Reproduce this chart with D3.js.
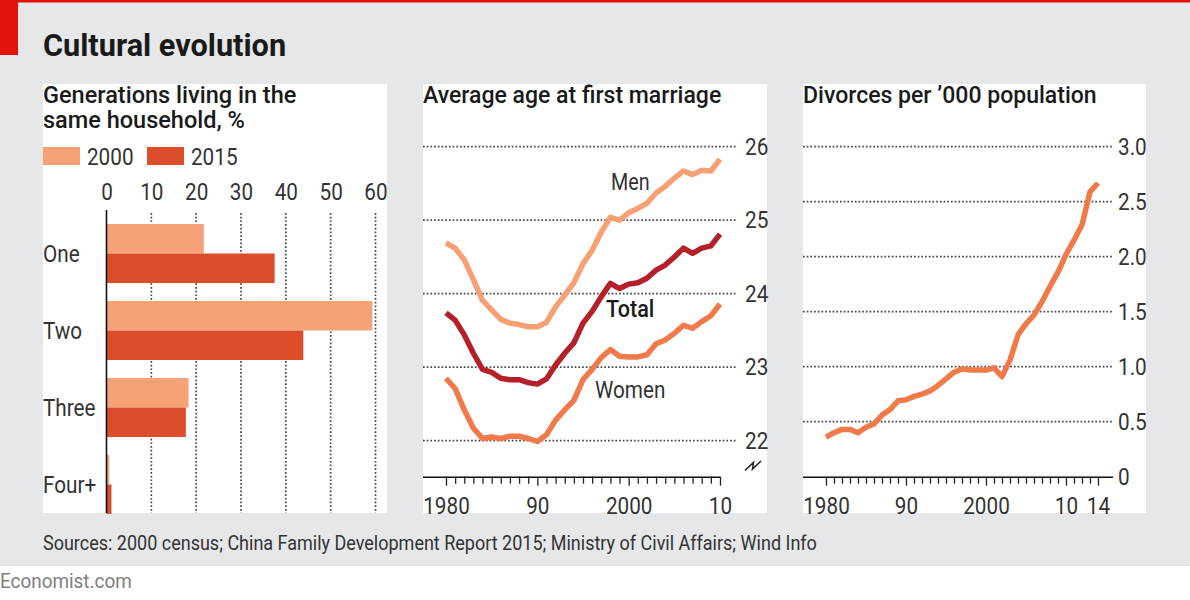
<!DOCTYPE html>
<html>
<head>
<meta charset="utf-8">
<script src="https://cdn.jsdelivr.net/npm/d3@7"></script>
<style>
  html, body { margin: 0; padding: 0; background: #ffffff; }
  svg { display: block; }
  text { font-family: "Roboto", "Noto Sans", sans-serif; }
</style>
</head>
<body>
<svg id="chart" width="1190" height="600"></svg>
<script>
// ---------- DATA ----------
const householdCats = ["One", "Two", "Three", "Four+"];
const householdSeries = ["2000", "2015"];
const household2000 = [21.7, 59.3, 18.3, 0.6];
const household2015 = [37.5, 43.9, 17.7, 1.1];
const householdTicks = [0, 10, 20, 30, 40, 50, 60];

const marriageYears = [1980, 1981, 1982, 1983, 1984, 1985, 1986, 1987, 1988, 1989,
  1990, 1991, 1992, 1993, 1994, 1995, 1996, 1997, 1998, 1999,
  2000, 2001, 2002, 2003, 2004, 2005, 2006, 2007, 2008, 2009, 2010];
const menAge = [24.69, 24.62, 24.46, 24.19, 23.91, 23.78, 23.65, 23.60, 23.58, 23.55,
  23.55, 23.61, 23.82, 23.98, 24.15, 24.41, 24.59, 24.84, 25.04, 25.00,
  25.10, 25.16, 25.23, 25.37, 25.46, 25.57, 25.67, 25.62, 25.68, 25.67, 25.83];
const totalAge = [23.74, 23.64, 23.44, 23.19, 22.97, 22.93, 22.85, 22.83, 22.83, 22.79,
  22.77, 22.84, 23.03, 23.19, 23.33, 23.60, 23.76, 23.96, 24.14, 24.07,
  24.13, 24.15, 24.21, 24.32, 24.39, 24.50, 24.62, 24.55, 24.62, 24.65, 24.81];
const womenAge = [22.85, 22.71, 22.42, 22.17, 22.03, 22.05, 22.03, 22.06, 22.06, 22.03,
  21.99, 22.08, 22.28, 22.42, 22.55, 22.83, 22.97, 23.13, 23.24, 23.15,
  23.14, 23.14, 23.17, 23.32, 23.37, 23.46, 23.57, 23.53, 23.62, 23.70, 23.86];
const marriageTicksY = [22, 23, 24, 25, 26];
const marriageLabelYears = [1980, 1990, 2000, 2010];
const marriageLabelText = ["1980", "90", "2000", "10"];

const divorceYears = [1980, 1981, 1982, 1983, 1984, 1985, 1986, 1987, 1988, 1989,
  1990, 1991, 1992, 1993, 1994, 1995, 1996, 1997, 1998, 1999,
  2000, 2001, 2002, 2003, 2004, 2005, 2006, 2007, 2008, 2009,
  2010, 2011, 2012, 2013, 2014];
const divorceRate = [0.36, 0.40, 0.43, 0.43, 0.40, 0.45, 0.48, 0.56, 0.61, 0.69,
  0.70, 0.73, 0.75, 0.78, 0.83, 0.89, 0.95, 0.98, 0.97, 0.97,
  0.97, 0.99, 0.91, 1.06, 1.29, 1.39, 1.47, 1.59, 1.73, 1.86,
  2.02, 2.15, 2.29, 2.59, 2.67];
const divorceTicksY = [0, 0.5, 1.0, 1.5, 2.0, 2.5, 3.0];
const divorceLabelYears = [1980, 1990, 2000, 2010, 2014];
const divorceLabelText = ["1980", "90", "2000", "10", "14"];

// ---------- STYLE ----------
const C = {
  bg: "#e6e7e9", red: "#e3120b", text: "#1a1a1a", tick: "#333333", grid: "#484848",
  c2000: "#f6a276", c2015: "#dc4d2c", men: "#f7a074", total: "#b41f2a", women: "#f07a4a"
};
const SQUEEZE = 0.9;

const svg = d3.select("#chart");

svg.append("rect").attr("x", 0).attr("y", 0).attr("width", 1190).attr("height", 566).attr("fill", C.bg);
svg.append("rect").attr("x", 0).attr("y", 0).attr("width", 1190).attr("height", 2.5).attr("fill", C.red);
svg.append("rect").attr("x", 0).attr("y", 0).attr("width", 18).attr("height", 55).attr("fill", C.red);

svg.append("text").attr("x", 43).attr("y", 56).attr("font-size", 31).attr("font-weight", 700)
  .attr("data-sq", 0.99).attr("fill", C.text).text("Cultural evolution");

const panels = [{x: 43, w: 344}, {x: 423, w: 344}, {x: 803, w: 343}];
panels.forEach(p => svg.append("rect").attr("x", p.x).attr("y", 84).attr("width", p.w).attr("height", 429).attr("fill", "#ffffff"));

function gridStyle(sel) {
  sel.attr("stroke", C.grid).attr("stroke-width", 1.7).attr("stroke-dasharray", "1.7,2.0");
}

// ---------- LEFT PANEL ----------
const left = svg.append("g");
const sub = left.append("text").attr("x", 43).attr("y", 103).attr("font-size", 24).attr("font-weight", 500)
  .attr("data-sq", 0.98).attr("fill", C.text);
sub.append("tspan").attr("x", 43).attr("y", 103).text("Generations living in the");
sub.append("tspan").attr("x", 43).attr("y", 128).text("same household, %");

const legendX = d3.scaleOrdinal(householdSeries, [43, 147]);
const legendColor = d3.scaleOrdinal(householdSeries, [C.c2000, C.c2015]);
householdSeries.forEach(s => {
  left.append("rect").attr("x", legendX(s)).attr("y", 147).attr("width", 37).attr("height", 18).attr("fill", legendColor(s));
  left.append("text").attr("x", legendX(s) + 44).attr("y", 165).attr("font-size", 23).attr("fill", C.tick).text(s);
});

const xBar = d3.scaleLinear([0, 60], [106.5, 375.5]);
const yBar = d3.scaleBand(householdCats, [224, 514]).paddingInner(18 / 77).paddingOuter(0);
const ySub = d3.scaleBand(householdSeries, [0, yBar.bandwidth()]);

left.append("g").selectAll("line").data(householdTicks.filter(d => d > 0)).join("line")
  .attr("x1", d => xBar(d)).attr("x2", d => xBar(d)).attr("y1", 213).attr("y2", 513)
  .call(gridStyle);

const barAxis = d3.axisTop(xBar).tickValues(householdTicks).tickSize(0).tickPadding(0).tickFormat(d3.format("d"));
const barAxisG = left.append("g").attr("transform", "translate(0,200)").call(barAxis);
barAxisG.select(".domain").remove();
barAxisG.selectAll("text").attr("font-size", 23).attr("fill", C.tick).attr("dy", 0).attr("font-family", null);

const household = householdCats.map((c, i) => ({cat: c, values: [household2000[i], household2015[i]]}));
const groups = left.append("g").selectAll("g").data(household).join("g")
  .attr("transform", d => `translate(0,${yBar(d.cat)})`);
groups.selectAll("rect").data(d => householdSeries.map((s, j) => ({s, v: d.values[j]}))).join("rect")
  .attr("x", xBar(0)).attr("y", d => ySub(d.s)).attr("height", ySub.bandwidth())
  .attr("width", d => xBar(d.v) - xBar(0)).attr("fill", d => legendColor(d.s));

left.append("g").selectAll("text").data(householdCats).join("text")
  .attr("x", 43).attr("y", d => yBar(d) + yBar.bandwidth() / 2 + 8.5)
  .attr("font-size", 23).attr("fill", C.tick).text(d => d);

left.append("line").attr("x1", xBar(0)).attr("x2", xBar(0)).attr("y1", 210).attr("y2", 513)
  .attr("stroke", "#111").attr("stroke-width", 1.6);

// ---------- MIDDLE PANEL ----------
const mid = svg.append("g");
mid.append("text").attr("x", 423).attr("y", 103).attr("font-size", 24).attr("font-weight", 500)
  .attr("data-sq", 0.96).attr("fill", C.text).text("Average age at first marriage");

const xM = d3.scaleLinear([1980, 2010], [446, 720]);
const yM = d3.scaleLinear([22, 26], [440.7, 146.7]);

mid.append("g").selectAll("line").data(marriageTicksY).join("line")
  .attr("x1", 423).attr("x2", 737).attr("y1", d => yM(d)).attr("y2", d => yM(d)).call(gridStyle);

const yMAxis = d3.axisRight(yM).tickValues(marriageTicksY).tickSize(0).tickPadding(0).tickFormat(d3.format("d"));
const yMG = mid.append("g").attr("transform", "translate(745,0)").call(yMAxis);
yMG.select(".domain").remove();
yMG.selectAll("text").attr("font-size", 23).attr("fill", C.tick).attr("font-family", null);

mid.append("path").attr("d", "M745,470.5 L753.5,462.5 L752.5,469 L761,461")
  .attr("fill", "none").attr("stroke", "#222").attr("stroke-width", 1.6);

const xMAxis = d3.axisBottom(xM).tickValues(marriageYears).tickSize(7).tickPadding(14)
  .tickFormat(d => { const i = marriageLabelYears.indexOf(d); return i >= 0 ? marriageLabelText[i] : ""; });
const xMG = mid.append("g").attr("transform", "translate(0,476.7)").call(xMAxis);
xMG.select(".domain").attr("d", `M423,0.5H${xM(2010)}`).attr("stroke", "#111").attr("stroke-width", 1.6);
xMG.selectAll(".tick line").attr("stroke", "#222").attr("stroke-width", 1.3)
  .attr("y2", d => marriageLabelYears.includes(d) ? 9 : 7);
xMG.selectAll("text").attr("font-size", 23).attr("fill", C.tick).attr("font-family", null).attr("dy", "0.71em");

const lineM = d3.line().x((d, i) => xM(marriageYears[i])).y(d => yM(d)).curve(d3.curveLinear);
[[menAge, C.men], [womenAge, C.women], [totalAge, C.total]].forEach(([arr, col]) => {
  mid.append("path").datum(arr).attr("d", lineM).attr("fill", "none").attr("stroke", col)
    .attr("stroke-width", 5.5).attr("stroke-linejoin", "round").attr("stroke-linecap", "butt");
});

mid.append("text").attr("x", 611).attr("y", 190).attr("font-size", 23).attr("data-sq", 0.86).attr("fill", C.tick).text("Men");
mid.append("text").attr("x", 606).attr("y", 317).attr("font-size", 24).attr("font-weight", 500).attr("fill", C.text).text("Total");
mid.append("text").attr("x", 595).attr("y", 398).attr("font-size", 23).attr("fill", C.tick).text("Women");

// ---------- RIGHT PANEL ----------
const right = svg.append("g");
right.append("text").attr("x", 803).attr("y", 103).attr("font-size", 24).attr("font-weight", 500)
  .attr("data-sq", 0.96).attr("fill", C.text).text("Divorces per ’000 population");

const xD = d3.scaleLinear([1980, 2014], [826, 1098]);
const yD = d3.scaleLinear([0, 3], [476.7, 146.7]);

right.append("g").selectAll("line").data(divorceTicksY.filter(d => d > 0)).join("line")
  .attr("x1", 803).attr("x2", 1113).attr("y1", d => yD(d)).attr("y2", d => yD(d)).call(gridStyle);

const yDAxis = d3.axisRight(yD).tickValues(divorceTicksY).tickSize(0).tickPadding(0)
  .tickFormat(d => d === 0 ? "0" : d3.format(".1f")(d));
const yDG = right.append("g").attr("transform", "translate(1118,0)").call(yDAxis);
yDG.select(".domain").remove();
yDG.selectAll("text").attr("font-size", 23).attr("fill", C.tick).attr("font-family", null);

const xDAxis = d3.axisBottom(xD).tickValues(divorceYears).tickSize(7).tickPadding(14)
  .tickFormat(d => { const i = divorceLabelYears.indexOf(d); return i >= 0 ? divorceLabelText[i] : ""; });
const xDG = right.append("g").attr("transform", "translate(0,476.7)").call(xDAxis);
xDG.select(".domain").attr("d", "M803,0.5H1113").attr("stroke", "#111").attr("stroke-width", 1.6);
xDG.selectAll(".tick line").attr("stroke", "#222").attr("stroke-width", 1.3)
  .attr("y2", d => divorceLabelYears.includes(d) ? 9 : 7);
xDG.selectAll("text").attr("font-size", 23).attr("fill", C.tick).attr("font-family", null).attr("dy", "0.71em");

const lineD = d3.line().x((d, i) => xD(divorceYears[i])).y(d => yD(d));
right.append("path").datum(divorceRate).attr("d", lineD).attr("fill", "none").attr("stroke", C.women)
  .attr("stroke-width", 5.5).attr("stroke-linejoin", "round");

// ---------- FOOTER ----------
svg.append("text").attr("x", 43).attr("y", 550).attr("font-size", 20).attr("fill", C.tick)
  .text("Sources: 2000 census; China Family Development Report 2015; Ministry of Civil Affairs; Wind Info");
svg.append("text").attr("x", 0).attr("y", 588).attr("font-size", 21).attr("fill", "#808080").text("Economist.com");

// condensed look: squeeze every text horizontally around its anchor point
svg.selectAll("text").each(function() {
  const t = d3.select(this);
  const k = t.attr("data-sq") ? +t.attr("data-sq") : SQUEEZE;
  const x = +(t.attr("x") || 0), y = +(t.attr("y") || 0);
  t.attr("transform", `translate(${x},${y}) scale(${k},1) translate(${-x},${-y})`);
});
</script>
</body>
</html>
